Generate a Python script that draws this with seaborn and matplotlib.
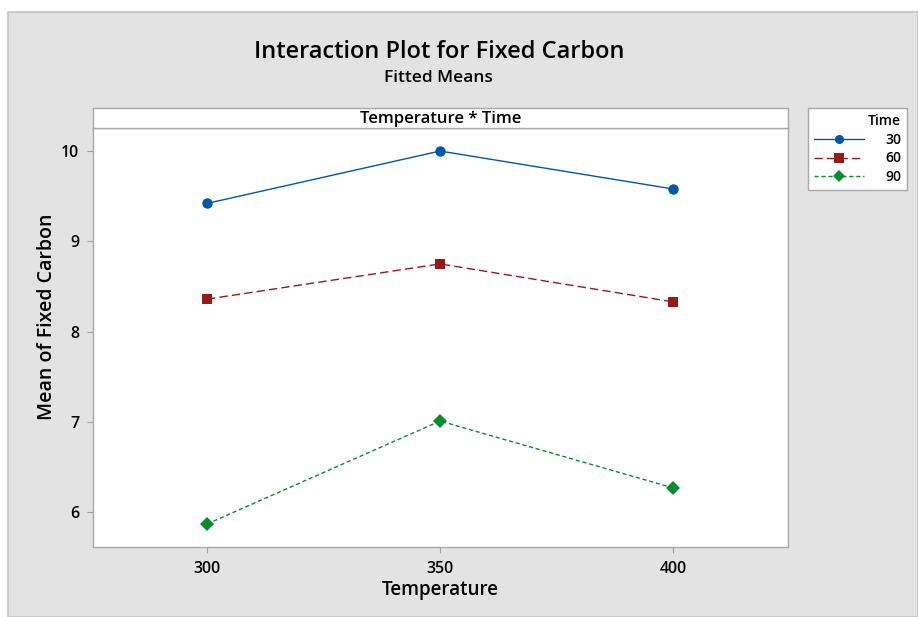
import matplotlib
matplotlib.use("Agg")
import matplotlib.pyplot as plt
from matplotlib.patches import Rectangle
from matplotlib.lines import Line2D
import seaborn as sns
import pandas as pd

# Fitted means of fixed carbon by temperature and holding time
temperatures = [300, 350, 400]
times = [30, 60, 90]
mean_t30 = [9.42, 10.00, 9.58]
mean_t60 = [8.36, 8.75, 8.33]
mean_t90 = [5.87, 7.01, 6.27]

x_ticks = [300, 350, 400]
y_ticks = [6, 7, 8, 9, 10]

df = pd.DataFrame({
    "Temperature": temperatures * 3,
    "Time": [t for t in times for _ in temperatures],
    "Mean": mean_t30 + mean_t60 + mean_t90,
})

sns.set_theme(style="white")
plt.rcParams["font.family"] = ["Open Sans", "DejaVu Sans"]
plt.rcParams["text.color"] = "black"
plt.rcParams["axes.labelcolor"] = "black"
plt.rcParams["xtick.color"] = "black"
plt.rcParams["ytick.color"] = "black"

colors = {30: "#0057A8", 60: "#951A1C", 90: "#0A8A2E"}
markers = {30: "o", 60: "s", 90: "D"}
dashes = {30: "", 60: (6, 3), 90: (3, 2)}
msizes = {30: 7.5, 60: 7.5, 90: 7}

fig = plt.figure(figsize=(9.18, 6.17), dpi=100)
fig.patch.set_facecolor("white")

# grey panel behind the chart
panel = Rectangle((8 / 918, 0), 1 - 8 / 918, 1 - 12 / 617, transform=fig.transFigure,
                  facecolor="#E3E3E3", edgecolor="#C4C4C4", linewidth=1.2, zorder=-10)
fig.patches.append(panel)

left, right = 93 / 918, 788 / 918
bottom, top = 1 - 547 / 617, 1 - 128 / 617
ax = fig.add_axes([left, bottom, right - left, top - bottom])
ax.set_facecolor("white")

sns.lineplot(data=df, x="Temperature", y="Mean", hue="Time", style="Time",
             palette=colors, markers=markers, dashes=dashes, linewidth=1.0,
             markersize=7.5, markeredgewidth=0, legend=False, ax=ax)

ax.set_xlim(275.5, 424.7)
ax.set_ylim(5.615, 10.255)
ax.set_xticks(x_ticks)
ax.set_yticks(y_ticks)
ax.set_xticklabels([str(v) for v in x_ticks], fontsize=11.5, fontweight="semibold")
ax.set_yticklabels([str(v) for v in y_ticks], fontsize=11.5, fontweight="semibold")
ax.tick_params(axis="both", which="major", length=4, width=0.8, color="#A0A0A0",
               labelcolor="black", pad=6, direction="out", bottom=True, left=True)
for s in ax.spines.values():
    s.set_color("#A8A8A8")
    s.set_linewidth(1.0)
ax.set_xlabel("Temperature", fontsize=13.5, labelpad=2, fontweight="semibold")
ax.set_ylabel("Mean of Fixed Carbon", fontsize=14, fontweight="semibold")
ax.yaxis.set_label_coords(-0.052, 0.55)

# panel header strip
strip = fig.add_axes([left, top, right - left, 20 / 617])
strip.set_facecolor("white")
strip.set_xticks([])
strip.set_yticks([])
for s in strip.spines.values():
    s.set_color("#A8A8A8")
    s.set_linewidth(1.0)
strip.text(0.5, 0.45, "Temperature * Time", ha="center", va="center",
           fontsize=12, fontweight="semibold", transform=strip.transAxes)

fig.text(0.478, 1 - 52 / 617, "Interaction Plot for Fixed Carbon", ha="center",
         va="center", fontsize=17, fontweight="semibold")
fig.text(0.478, 1 - 78 / 617, "Fitted Means", ha="center", va="center",
         fontsize=12.5, fontweight="semibold")

handles = [Line2D([0], [0], color=colors[t], marker=markers[t], markersize=msizes[t] - 1,
                  linestyle="-" if dashes[t] == "" else (0, dashes[t]), linewidth=1.0,
                  markeredgewidth=0)
           for t in times]
leg = fig.legend(handles, [str(t) for t in times], title="Time",
                 loc="upper left", bbox_to_anchor=(808 / 918, 1 - 108 / 617),
                 frameon=True, fancybox=False, fontsize=10, title_fontsize=10,
                 handlelength=3.6, handletextpad=1.5, borderpad=0.45,
                 labelspacing=0.33, alignment="right", borderaxespad=0)
leg.get_frame().set_edgecolor("#A8A8A8")
leg.get_frame().set_facecolor("white")
leg.get_frame().set_alpha(1.0)
leg.get_frame().set_linewidth(1.0)
leg.get_title().set_fontweight("semibold")
for t in leg.get_texts():
    t.set_fontweight("semibold")

fig.savefig("out.png", dpi=100, facecolor=fig.get_facecolor())
